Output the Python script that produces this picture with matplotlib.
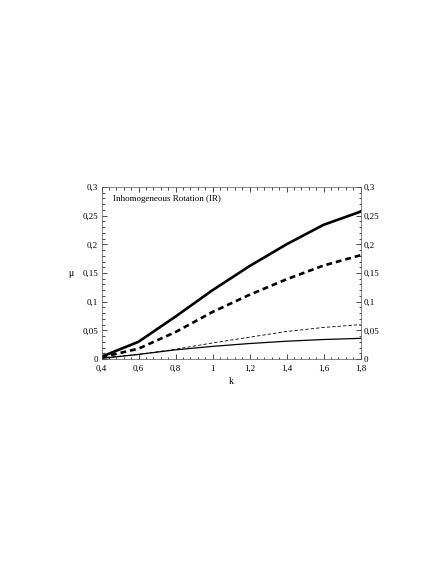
import matplotlib
matplotlib.use("Agg")
import matplotlib.pyplot as plt
from matplotlib.ticker import MultipleLocator, FuncFormatter

k = [0.4, 0.6, 0.8, 1.0, 1.2, 1.4, 1.6, 1.8]
thick_solid = [0.004, 0.030, 0.074, 0.120, 0.162, 0.200, 0.234, 0.257]
thick_dashed = [0.003, 0.018, 0.047, 0.082, 0.112, 0.139, 0.163, 0.181]
thin_dashed = [0.002, 0.008, 0.017, 0.028, 0.038, 0.048, 0.055, 0.060]
thin_solid = [0.001, 0.008, 0.016, 0.022, 0.027, 0.031, 0.034, 0.036]

xticks = [0.4, 0.6, 0.8, 1.0, 1.2, 1.4, 1.6, 1.8]
yticks = [0, 0.05, 0.1, 0.15, 0.2, 0.25, 0.3]
title_text = "Inhomogeneous Rotation (IR)"

plt.rcParams['font.family'] = ['Liberation Serif', 'DejaVu Serif']

fig = plt.figure(figsize=(4.36, 5.64), dpi=100)
W, H = 436, 564
x0, x1, ytop, ybot = 101.5, 360.5, 187, 359
ax = fig.add_axes([x0 / W, 1 - ybot / H, (x1 - x0) / W, (ybot - ytop) / H])

ax.plot(k, thick_solid, color='black', lw=1.9, ls='-')
ax.plot(k, thick_dashed, color='black', lw=1.9, ls=(0, (2.2, 1.5)))
ax.plot(k, thin_dashed, color='black', lw=0.6, ls=(0, (4, 2.5)))
ax.plot(k, thin_solid, color='black', lw=0.9, ls='-')

ax.set_xlim(0.4, 1.8)
ax.set_ylim(0, 0.3)

def fmt(v, pos):
    s = f"{v:.2f}".rstrip('0').rstrip('.')
    return s.replace('.', ',')

ax.xaxis.set_major_locator(MultipleLocator(0.2))
ax.xaxis.set_minor_locator(MultipleLocator(0.04))
ax.yaxis.set_major_locator(MultipleLocator(0.05))
ax.yaxis.set_minor_locator(MultipleLocator(0.01))
ax.xaxis.set_major_formatter(FuncFormatter(fmt))
ax.yaxis.set_major_formatter(FuncFormatter(fmt))
ax.set_xticks(xticks)
ax.set_yticks(yticks)

ax.tick_params(which='both', direction='in', top=True, right=True,
               labelright=True, labelsize=6.5, width=0.5)
ax.tick_params(axis='y', pad=2.5)
ax.tick_params(axis='x', pad=4)
ax.tick_params(which='major', length=3.5)
ax.tick_params(which='minor', length=1.8)
for s in ax.spines.values():
    s.set_linewidth(0.5)
    s.set_color('#555555')

ax.set_xlabel('k', fontsize=7, labelpad=3)
ax.set_ylabel('μ', fontsize=7, rotation=0, labelpad=8, va='center')
ax.text(0.045, 0.93, title_text, transform=ax.transAxes, fontsize=6.5,
        ha='left', va='center')

fig.savefig('out.png', dpi=100)
